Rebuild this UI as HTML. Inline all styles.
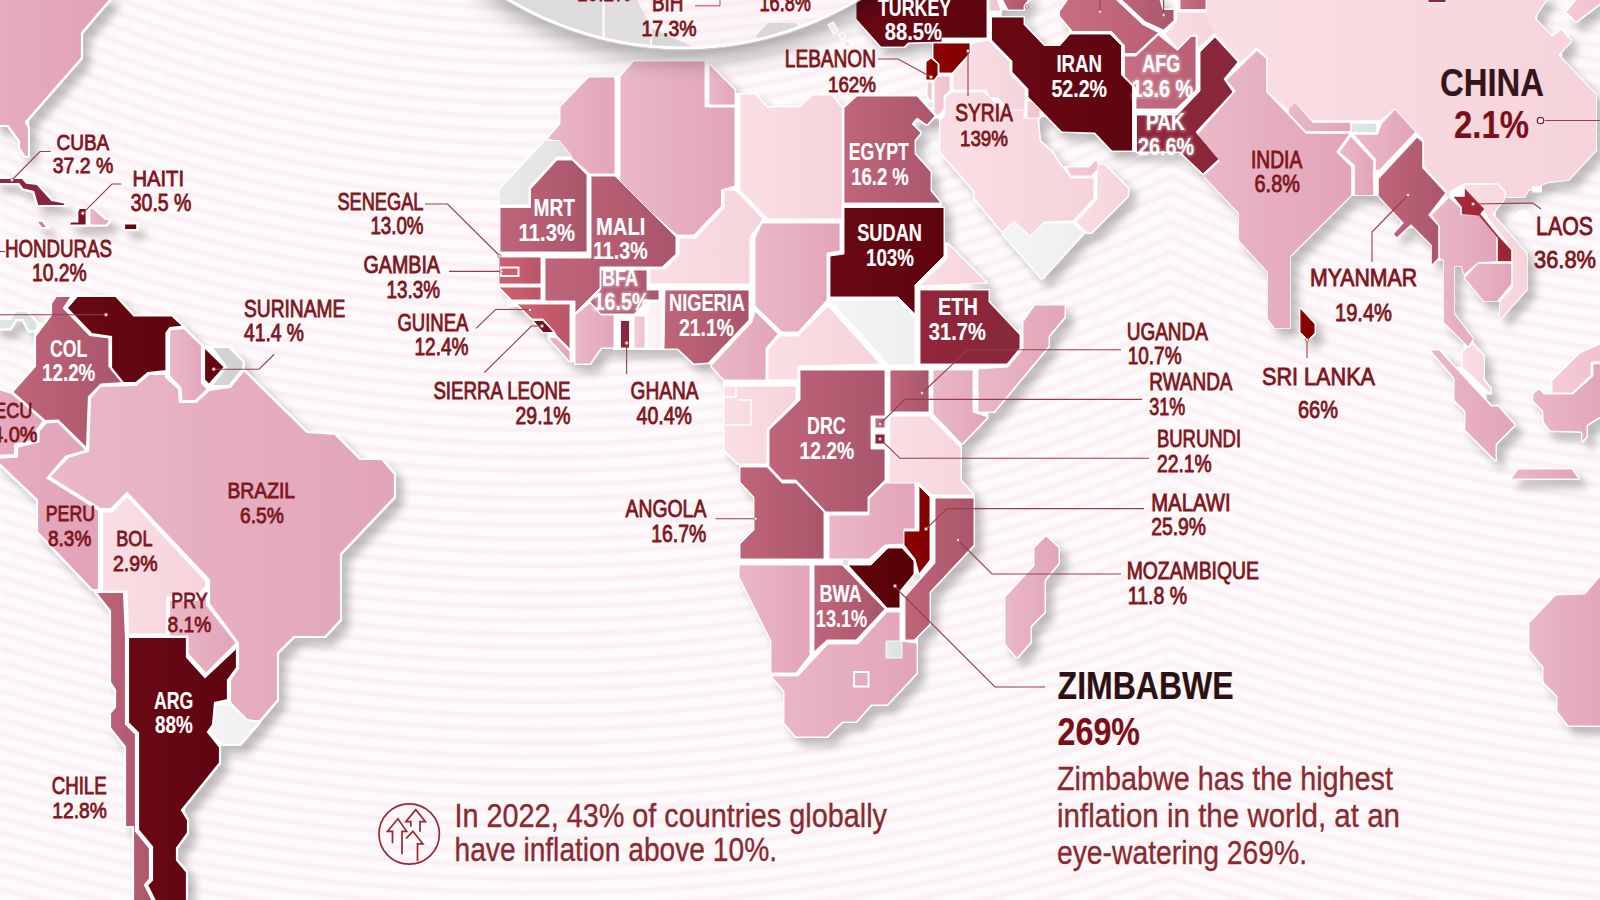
<!DOCTYPE html>
<html><head><meta charset="utf-8"><title>Inflation map</title>
<style>html,body{margin:0;padding:0;background:#fdfafb;}body{width:1600px;height:900px;overflow:hidden;font-family:"Liberation Sans",sans-serif;}svg{display:block}</style></head>
<body>
<svg width="1600" height="900" viewBox="0 0 1600 900" font-family="Liberation Sans, sans-serif">
<defs>
<linearGradient id="g_pink" x1="0" y1="0" x2="1" y2="0"><stop offset="0" stop-color="#eab8c7"/><stop offset="1" stop-color="#e2a4b8"/></linearGradient>
<linearGradient id="g_pink2" x1="0" y1="0" x2="1" y2="0"><stop offset="0" stop-color="#e6acbf"/><stop offset="1" stop-color="#e2a2b7"/></linearGradient>
<linearGradient id="g_light" x1="0" y1="0" x2="1" y2="0"><stop offset="0" stop-color="#f9dfe4"/><stop offset="1" stop-color="#f6d3db"/></linearGradient>
<linearGradient id="g_lpink" x1="0" y1="0" x2="1" y2="0"><stop offset="0" stop-color="#f5ccd6"/><stop offset="1" stop-color="#f0c0cc"/></linearGradient>
<linearGradient id="g_med" x1="0" y1="0" x2="1" y2="0"><stop offset="0" stop-color="#c0657a"/><stop offset="1" stop-color="#a9566a"/></linearGradient>
<linearGradient id="g_med2" x1="0" y1="0" x2="1" y2="0"><stop offset="0" stop-color="#c86e82"/><stop offset="1" stop-color="#b96074"/></linearGradient>
<linearGradient id="g_sen" x1="0" y1="0" x2="1" y2="0"><stop offset="0" stop-color="#d3616f"/><stop offset="1" stop-color="#b95669"/></linearGradient>
<linearGradient id="g_dark" x1="0" y1="0" x2="1" y2="0"><stop offset="0" stop-color="#932539"/><stop offset="1" stop-color="#86283b"/></linearGradient>
<linearGradient id="g_vdark" x1="0" y1="0" x2="1" y2="0"><stop offset="0" stop-color="#690813"/><stop offset="1" stop-color="#5e0510"/></linearGradient>
<linearGradient id="g_zim" x1="0" y1="0" x2="1" y2="0"><stop offset="0" stop-color="#5f0309"/><stop offset="1" stop-color="#560207"/></linearGradient>
<linearGradient id="g_red" x1="0" y1="0" x2="1" y2="0"><stop offset="0" stop-color="#8d0202"/><stop offset="1" stop-color="#800000"/></linearGradient>
<linearGradient id="g_cuba" x1="0" y1="0" x2="1" y2="0"><stop offset="0" stop-color="#8f2a43"/><stop offset="1" stop-color="#84233a"/></linearGradient>
<linearGradient id="g_haiti" x1="0" y1="0" x2="1" y2="0"><stop offset="0" stop-color="#7e152a"/><stop offset="1" stop-color="#76101f"/></linearGradient>
<linearGradient id="g_grey" x1="0" y1="0" x2="1" y2="0"><stop offset="0" stop-color="#e9e9e9"/><stop offset="1" stop-color="#e2e2e2"/></linearGradient>
<linearGradient id="g_grey2" x1="0" y1="0" x2="1" y2="0"><stop offset="0" stop-color="#f4f4f4"/><stop offset="1" stop-color="#efefef"/></linearGradient>
<linearGradient id="g_bgrey" x1="0" y1="0" x2="1" y2="0"><stop offset="0" stop-color="#dfe7e7"/><stop offset="1" stop-color="#d9e2e2"/></linearGradient>
<linearGradient id="g_white" x1="0" y1="0" x2="1" y2="0"><stop offset="0" stop-color="#fdf4f6"/><stop offset="1" stop-color="#fbeef1"/></linearGradient>
<linearGradient id="g_jam" x1="0" y1="0" x2="1" y2="0"><stop offset="0" stop-color="#e27a90"/><stop offset="1" stop-color="#dc6c84"/></linearGradient>
<linearGradient id="g_wfill" x1="0" y1="0" x2="1" y2="0"><stop offset="0" stop-color="#ffffff"/><stop offset="1" stop-color="#ffffff"/></linearGradient>
<linearGradient id="g_laos" x1="0" y1="0" x2="1" y2="0"><stop offset="0" stop-color="#a62a3c"/><stop offset="1" stop-color="#9a2436"/></linearGradient>
<linearGradient id="g_fgrey" x1="0" y1="0" x2="1" y2="0"><stop offset="0" stop-color="#d6d6d6"/><stop offset="1" stop-color="#cfcfcf"/></linearGradient>
<clipPath id="cl"><rect x="0" y="0" width="1170" height="900"/></clipPath>
<clipPath id="cr"><rect x="1170" y="0" width="430" height="900"/></clipPath>
<clipPath id="lens"><circle cx="683" cy="-291" r="338.5"/></clipPath>
<filter id="sh" x="-2%" y="-2%" width="104%" height="104%" color-interpolation-filters="sRGB"><feMorphology in="SourceAlpha" operator="dilate" radius="2.6"/><feMorphology operator="erode" radius="1.8" result="base"/><feGaussianBlur in="base" stdDeviation="4.5"/><feOffset dx="7" dy="8"/><feComponentTransfer result="shadow"><feFuncA type="linear" slope="0.24"/></feComponentTransfer><feFlood flood-color="#ffffff"/><feComposite in2="base" operator="in" result="wb"/><feMerge><feMergeNode in="shadow"/><feMergeNode in="wb"/></feMerge></filter>
<filter id="sh2" x="-20%" y="-20%" width="140%" height="140%"><feGaussianBlur in="SourceAlpha" stdDeviation="11"/><feOffset dx="3" dy="12"/><feComponentTransfer><feFuncA type="linear" slope="0.33"/></feComponentTransfer><feMerge><feMergeNode/><feMergeNode in="SourceGraphic"/></feMerge></filter>
<filter id="hl" x="-20%" y="-30%" width="140%" height="160%"><feGaussianBlur stdDeviation="0.8"/></filter>
<filter id="bl"><feGaussianBlur stdDeviation="1.2"/></filter>
</defs>
<rect width="1600" height="900" fill="#fdfafb"/>
<g filter="url(#bl)">
<g clip-path="url(#cl)" fill="none" stroke="#fbeff3" stroke-width="5">
<circle cx="542" cy="-1112" r="1107.0"/>
<circle cx="542" cy="-1112" r="1120.6"/>
<circle cx="542" cy="-1112" r="1134.2"/>
<circle cx="542" cy="-1112" r="1147.8"/>
<circle cx="542" cy="-1112" r="1161.4"/>
<circle cx="542" cy="-1112" r="1175.0"/>
<circle cx="542" cy="-1112" r="1188.6"/>
<circle cx="542" cy="-1112" r="1202.2"/>
<circle cx="542" cy="-1112" r="1215.8"/>
<circle cx="542" cy="-1112" r="1229.4"/>
<circle cx="542" cy="-1112" r="1243.0"/>
<circle cx="542" cy="-1112" r="1256.6"/>
<circle cx="542" cy="-1112" r="1270.2"/>
<circle cx="542" cy="-1112" r="1283.8"/>
<circle cx="542" cy="-1112" r="1297.4"/>
<circle cx="542" cy="-1112" r="1311.0"/>
<circle cx="542" cy="-1112" r="1324.6"/>
<circle cx="542" cy="-1112" r="1338.2"/>
<circle cx="542" cy="-1112" r="1351.8"/>
<circle cx="542" cy="-1112" r="1365.4"/>
<circle cx="542" cy="-1112" r="1379.0"/>
<circle cx="542" cy="-1112" r="1392.6"/>
<circle cx="542" cy="-1112" r="1406.2"/>
<circle cx="542" cy="-1112" r="1419.8"/>
<circle cx="542" cy="-1112" r="1433.4"/>
<circle cx="542" cy="-1112" r="1447.0"/>
<circle cx="542" cy="-1112" r="1460.6"/>
<circle cx="542" cy="-1112" r="1474.2"/>
<circle cx="542" cy="-1112" r="1487.8"/>
<circle cx="542" cy="-1112" r="1501.4"/>
<circle cx="542" cy="-1112" r="1515.0"/>
<circle cx="542" cy="-1112" r="1528.6"/>
<circle cx="542" cy="-1112" r="1542.2"/>
<circle cx="542" cy="-1112" r="1555.8"/>
<circle cx="542" cy="-1112" r="1569.4"/>
<circle cx="542" cy="-1112" r="1583.0"/>
<circle cx="542" cy="-1112" r="1596.6"/>
<circle cx="542" cy="-1112" r="1610.2"/>
<circle cx="542" cy="-1112" r="1623.8"/>
<circle cx="542" cy="-1112" r="1637.4"/>
<circle cx="542" cy="-1112" r="1651.0"/>
<circle cx="542" cy="-1112" r="1664.6"/>
<circle cx="542" cy="-1112" r="1678.2"/>
<circle cx="542" cy="-1112" r="1691.8"/>
<circle cx="542" cy="-1112" r="1705.4"/>
<circle cx="542" cy="-1112" r="1719.0"/>
<circle cx="542" cy="-1112" r="1732.6"/>
<circle cx="542" cy="-1112" r="1746.2"/>
<circle cx="542" cy="-1112" r="1759.8"/>
<circle cx="542" cy="-1112" r="1773.4"/>
<circle cx="542" cy="-1112" r="1787.0"/>
<circle cx="542" cy="-1112" r="1800.6"/>
<circle cx="542" cy="-1112" r="1814.2"/>
<circle cx="542" cy="-1112" r="1827.8"/>
<circle cx="542" cy="-1112" r="1841.4"/>
<circle cx="542" cy="-1112" r="1855.0"/>
<circle cx="542" cy="-1112" r="1868.6"/>
<circle cx="542" cy="-1112" r="1882.2"/>
<circle cx="542" cy="-1112" r="1895.8"/>
<circle cx="542" cy="-1112" r="1909.4"/>
<circle cx="542" cy="-1112" r="1923.0"/>
<circle cx="542" cy="-1112" r="1936.6"/>
<circle cx="542" cy="-1112" r="1950.2"/>
<circle cx="542" cy="-1112" r="1963.8"/>
<circle cx="542" cy="-1112" r="1977.4"/>
<circle cx="542" cy="-1112" r="1991.0"/>
<circle cx="542" cy="-1112" r="2004.6"/>
<circle cx="542" cy="-1112" r="2018.2"/>
<circle cx="542" cy="-1112" r="2031.8"/>
<circle cx="542" cy="-1112" r="2045.4"/>
<circle cx="542" cy="-1112" r="2059.0"/>
<circle cx="542" cy="-1112" r="2072.6"/>
<circle cx="542" cy="-1112" r="2086.2"/>
<circle cx="542" cy="-1112" r="2099.8"/>
<circle cx="542" cy="-1112" r="2113.4"/>
<circle cx="542" cy="-1112" r="2127.0"/>
<circle cx="542" cy="-1112" r="2140.6"/>
<circle cx="542" cy="-1112" r="2154.2"/>
<circle cx="542" cy="-1112" r="2167.8"/>
<circle cx="542" cy="-1112" r="2181.4"/>
<circle cx="542" cy="-1112" r="2195.0"/>
</g>
<g clip-path="url(#cr)" fill="none" stroke="#fbeff3" stroke-width="5">
<circle cx="1798" cy="-1112" r="1107.0"/>
<circle cx="1798" cy="-1112" r="1120.6"/>
<circle cx="1798" cy="-1112" r="1134.2"/>
<circle cx="1798" cy="-1112" r="1147.8"/>
<circle cx="1798" cy="-1112" r="1161.4"/>
<circle cx="1798" cy="-1112" r="1175.0"/>
<circle cx="1798" cy="-1112" r="1188.6"/>
<circle cx="1798" cy="-1112" r="1202.2"/>
<circle cx="1798" cy="-1112" r="1215.8"/>
<circle cx="1798" cy="-1112" r="1229.4"/>
<circle cx="1798" cy="-1112" r="1243.0"/>
<circle cx="1798" cy="-1112" r="1256.6"/>
<circle cx="1798" cy="-1112" r="1270.2"/>
<circle cx="1798" cy="-1112" r="1283.8"/>
<circle cx="1798" cy="-1112" r="1297.4"/>
<circle cx="1798" cy="-1112" r="1311.0"/>
<circle cx="1798" cy="-1112" r="1324.6"/>
<circle cx="1798" cy="-1112" r="1338.2"/>
<circle cx="1798" cy="-1112" r="1351.8"/>
<circle cx="1798" cy="-1112" r="1365.4"/>
<circle cx="1798" cy="-1112" r="1379.0"/>
<circle cx="1798" cy="-1112" r="1392.6"/>
<circle cx="1798" cy="-1112" r="1406.2"/>
<circle cx="1798" cy="-1112" r="1419.8"/>
<circle cx="1798" cy="-1112" r="1433.4"/>
<circle cx="1798" cy="-1112" r="1447.0"/>
<circle cx="1798" cy="-1112" r="1460.6"/>
<circle cx="1798" cy="-1112" r="1474.2"/>
<circle cx="1798" cy="-1112" r="1487.8"/>
<circle cx="1798" cy="-1112" r="1501.4"/>
<circle cx="1798" cy="-1112" r="1515.0"/>
<circle cx="1798" cy="-1112" r="1528.6"/>
<circle cx="1798" cy="-1112" r="1542.2"/>
<circle cx="1798" cy="-1112" r="1555.8"/>
<circle cx="1798" cy="-1112" r="1569.4"/>
<circle cx="1798" cy="-1112" r="1583.0"/>
<circle cx="1798" cy="-1112" r="1596.6"/>
<circle cx="1798" cy="-1112" r="1610.2"/>
<circle cx="1798" cy="-1112" r="1623.8"/>
<circle cx="1798" cy="-1112" r="1637.4"/>
<circle cx="1798" cy="-1112" r="1651.0"/>
<circle cx="1798" cy="-1112" r="1664.6"/>
<circle cx="1798" cy="-1112" r="1678.2"/>
<circle cx="1798" cy="-1112" r="1691.8"/>
<circle cx="1798" cy="-1112" r="1705.4"/>
<circle cx="1798" cy="-1112" r="1719.0"/>
<circle cx="1798" cy="-1112" r="1732.6"/>
<circle cx="1798" cy="-1112" r="1746.2"/>
<circle cx="1798" cy="-1112" r="1759.8"/>
<circle cx="1798" cy="-1112" r="1773.4"/>
<circle cx="1798" cy="-1112" r="1787.0"/>
<circle cx="1798" cy="-1112" r="1800.6"/>
<circle cx="1798" cy="-1112" r="1814.2"/>
<circle cx="1798" cy="-1112" r="1827.8"/>
<circle cx="1798" cy="-1112" r="1841.4"/>
<circle cx="1798" cy="-1112" r="1855.0"/>
<circle cx="1798" cy="-1112" r="1868.6"/>
<circle cx="1798" cy="-1112" r="1882.2"/>
<circle cx="1798" cy="-1112" r="1895.8"/>
<circle cx="1798" cy="-1112" r="1909.4"/>
<circle cx="1798" cy="-1112" r="1923.0"/>
<circle cx="1798" cy="-1112" r="1936.6"/>
<circle cx="1798" cy="-1112" r="1950.2"/>
<circle cx="1798" cy="-1112" r="1963.8"/>
<circle cx="1798" cy="-1112" r="1977.4"/>
<circle cx="1798" cy="-1112" r="1991.0"/>
<circle cx="1798" cy="-1112" r="2004.6"/>
<circle cx="1798" cy="-1112" r="2018.2"/>
<circle cx="1798" cy="-1112" r="2031.8"/>
<circle cx="1798" cy="-1112" r="2045.4"/>
<circle cx="1798" cy="-1112" r="2059.0"/>
<circle cx="1798" cy="-1112" r="2072.6"/>
<circle cx="1798" cy="-1112" r="2086.2"/>
<circle cx="1798" cy="-1112" r="2099.8"/>
<circle cx="1798" cy="-1112" r="2113.4"/>
<circle cx="1798" cy="-1112" r="2127.0"/>
<circle cx="1798" cy="-1112" r="2140.6"/>
<circle cx="1798" cy="-1112" r="2154.2"/>
<circle cx="1798" cy="-1112" r="2167.8"/>
<circle cx="1798" cy="-1112" r="2181.4"/>
<circle cx="1798" cy="-1112" r="2195.0"/>
</g>
</g>
<g filter="url(#sh)" stroke="none" fill="#ffffff">
<polygon points="-5,-5 110,-5 110,0 82,33 82,58 26,122 29,128 29,157 25,157 19,148 19,141 8,126 -5,126"/>
<polygon points="-5,178 22.7,178 26.7,182.7 37.3,184 52,200 65.3,202.7 65.3,206 37.3,206 33.3,192 22.7,189.3 18.7,184 -5,184"/>
<polygon points="78.7,208 86.7,208 86.7,225.5 68,225.5 70.7,221.3 77.3,221.3 77.3,212"/>
<polygon points="89.3,208 93.3,208 105.3,218.7 110.7,220 106.7,225.5 89.3,225.5"/>
<polygon points="124,223.5 137.3,223.5 137.3,230 124,230"/>
<polygon points="36,220.8 42.7,220.8 48,228 41.3,228"/>
<polygon points="-5,318.7 10,318.7 16,310.7 26.7,310.7 38.7,324 36,331.3 28.7,331.3 22.7,320 16,320 10.7,329.3 -5,329.3"/>
<polygon points="100,386 136,385 149,374 166,374 166,377 179,389 180,402 196,402 209,390 230,387 244,370 307,432 335,434 360,459 382,459 395,474 395,497 341,554 341,620 325,637 294,637 278,653 278,700 260,721 247,721 230,703 230,680 238,668 238,643 209,604 209,580 127,493 111,509 100,509 49,477 68,457 88,451 90,398"/>
<polygon points="51,303 56,296 72,296 64,308 90,335 109.5,337.5 109.5,366 124,383 101,384.5 89,397 87,449 58,420.5 45,421 12,392 35,366 35,336 51,315"/>
<polygon points="66.5,308 77,296 116,296 134,315.5 172,315.5 184,326.5 170,328 166.5,333 166.5,371 148,373 136,383 123,383 111,368 111,337 91.5,334"/>
<polygon points="170,329.5 184,328 202,345.5 202,383 208,389 195.5,401 181.5,401 180.5,388 169,376 169,333"/>
<polygon points="211,347 229,347 244,362 243,369 229,386 211,386 226,367"/>
<polygon points="204,346.5 225,367 209,385 204,380"/>
<polygon points="-5,388 12,393 44,421 37,430 37,440 15,445 15,455 -5,456"/>
<polygon points="46,422.5 58,421.5 87,450.5 66,456.5 47.5,478 99,510 99,590 92,590 37,532 37,500 -5,460 -5,458 17,456.5 17,447 38.5,441.5 38.5,431"/>
<polygon points="102,511.5 112,511.5 127,495.5 206,580.5 206,587 195.5,597.5 167.5,597.5 166.5,634.5 128,634.5 126.5,591.5 102,591.5"/>
<polygon points="169,600 197,600 207,590 207,604.5 237,643 206,674 187.5,654 187.5,636.5 169,636.5"/>
<polygon points="95,592 124,592 126,637 126,724 136,734 136,831 150,848 150,879 145,885 155,905 133,905 133,827 125,827 125,747 110,728 110,713 115,707 115,690 110,682 110,611"/>
<polygon points="215,705 230,703 247,720 260,722 240,745 222,745 209,732 213,725"/>
<polygon points="128,637 187,637 187,657 205,677 237,647 237,668 228,680 228,700 215,703 213,725 208,732 220,747 220,763 182,810 188,820 188,833 177,848 177,860 187,872 187,905 157,905 147,885 152,880 152,847 138,830 138,733 128,723"/>
<polygon points="878,362 892,362 892,372 878,372"/>
<polygon points="508,298 520,298 520,306 508,306"/>
<polygon points="589,77 615,77 615,174 590,174 572,158 565,151 560,142 547,139 560,124 560,107"/>
<polygon points="545,140.5 559,140.5 567,150 572,157 557,157 529,187 529,205 499,205 499,190"/>
<polygon points="557,160 572,160 587,175 587,252 500,252 500,207.5 530.5,207.5 530.5,189"/>
<polygon points="634,61 705,61 705,107 735,107 735,186 721.5,190 721.5,206 694,235 677,235 620,185 620,77"/>
<polygon points="709,64 735,90 735,105 709,105"/>
<polygon points="740,94 755,94 767,107 800,107 813,95 832,95 842,108 842,219 768,219 740,190"/>
<polygon points="724,190 735,190 763,219 750,237 750,284 650,284 650,269 665,269 679,255 679,238 696,238 724,208"/>
<polygon points="591,176 615,176 676,237 676,254 662,267 600,267 600,288 575,313 575,301 545,301 545,258 591,258"/>
<polygon points="499,257 541,257 541,284 499,284"/>
<polygon points="499,287 541,287 541,300 512,300"/>
<polygon points="517,304 570,304 570,349 556,335 554,331 543,319 532,319"/>
<polygon points="533,320.5 543,320.5 554,332.5 543,332.5"/>
<polygon points="548,337.5 556,337.5 570,351.5 570,362"/>
<polygon points="575,315 590,303 601,315 616,315 616,348 601,348 590,364 575,364"/>
<polygon points="614,312 636,312 636,349 614,349"/>
<polygon points="632,298 664,298 664,349 632,349"/>
<polygon points="601,270 647,270 647,290 659,290 659,300 647,300 634,314 601,314 590,302 601,289"/>
<polygon points="634,316 645,316 645,348 634,348"/>
<polygon points="647,302 662,302 662,348 647,348"/>
<polygon points="620.5,320.5 629.5,320.5 629.5,348 620.5,348"/>
<polygon points="665,290 749,290 749,320 708,363 694,364 678,349 664,349"/>
<polygon points="762,223 840,223 840,251 827,253 827,300 798,332 782,332 755,306 755,238"/>
<polygon points="711,366 752,322 755,311 778,334 766,348 766,380 724,380"/>
<polygon points="768,350 780,336 798,336 828,306 880,364 798,366 798,380 768,380"/>
<polygon points="844,108 857,96 917,96 935,116 927,125 917,118 912,124 921,133 915,140 915,154 931,172 931,191 941,203 844,203"/>
<polygon points="947,243 987,283 919,286 947,259"/>
<polygon points="844,207.5 944,207.5 944,256 915,285 915,314 898,297 830,297 830,256 844,254"/>
<polygon points="830,300 897,300 915,318 915,365 889,365"/>
<polygon points="920,290 989,290 989,302 1020,335 1020,348 1007,364 920,364"/>
<polygon points="1023,322 1035,305 1065,305 1065,317 1049,336 1049,346 994,412 978,412 978,369 1008,367 1023,349"/>
<polygon points="724,386 796,386 796,400 767,429 767,464 738,464 724,450"/>
<polygon points="800,370 885,370 885,416 871,416 871,449 885,449 885,480 868,497 868,512 826,512 796,480 782,480 769,466 769,430 800,400"/>
<polygon points="890,370 929,370 929,412 890,412"/>
<polygon points="933,370 973,370 973,412 988,417 962,444 933,414"/>
<polygon points="890,416 929,416 961,448 961,481 974,495 932,495 919,483 889,483"/>
<polygon points="875,418 885,418 885,428 875,428"/>
<polygon points="875,434 885,434 885,444 875,444"/>
<polygon points="740,467 767,467 782,483 796,483 824,512 824,559 740,559 740,544 754,530 754,497 740,482"/>
<polygon points="829,515 869,515 869,499 885,483 915,483 915,529 904,529 904,544 885,545 869,559 829,559"/>
<polygon points="935,498 974,498 974,545 930,592 930,624 914,640 905,640 905,597 935,563"/>
<polygon points="919,486 930,497 930,560 919,574 915,559 904,545 904,531 919,531"/>
<polygon points="739,565 810,565 810,655 796,673 771,673 771,641 739,577"/>
<polygon points="814,565 842,565 885,609 856,640 827,640 814,652"/>
<polygon points="771,676 798,676 828,644 858,644 887,612 900,612 900,641 917,643 917,673 887,705 871,705 856,722 842,722 827,737 796,737 784,723 784,691"/>
<polygon points="848,565 871,565 888,548 902,548 914,561 914,574 900,591 900,608 887,608"/>
<polygon points="886,641 902,641 902,658 886,658"/>
<polygon points="1046,536 1059,548 1059,563 1045,580 1045,612 1031,626 1031,642 1017,658 1005,644 1005,597 1034,566 1034,548"/>
<polygon points="856,-5 987,-5 987,38 942,38 942,42 908,43 904,47 881,47 856,19"/>
<polygon points="934,81 939,76 950,76 950,90 944,96 944,109 938,116 934,112"/>
<polygon points="927,82 932,82 932,102 927,96"/>
<polygon points="972,43 988,40 1010,62 1010,74 1025,89 1025,112 1012,112 998,98 990,98 986,90 953,90 953,74 970,55"/>
<polygon points="933,43 970,43 970,53 952,73 939,73 939,64 933,58"/>
<polygon points="926,62 931,58 938,64 938,75 934,80 926,80"/>
<polygon points="945,98 952,92 984,92 1003,110 1024,110 1024,118 1038,118 1040,141 1053,153 1060,164 1071,178 1094,178 1094,198 1073,221 1044,222 1030,236 1014,221 1002,232 974,198 974,191 940,152 940,121 945,114"/>
<polygon points="1027,101 1031,101 1040,110 1040,118 1027,118"/>
<polygon points="1066,167 1089,167 1096,160 1100,167 1091,176 1071,176"/>
<polygon points="1098,164 1104,164 1129,189 1128,196 1091,233 1087,233 1076,222 1097,199 1097,179"/>
<polygon points="1002,233 1014,222 1030,237 1044,223 1073,223 1084,233 1042,279"/>
<polygon points="1157,27 1169,27 1169,39 1157,39"/>
<polygon points="989,-5 996,-5 1001,11 989,11"/>
<polygon points="1000,-5 1032,-5 1024,6 1024,10 1008,10"/>
<polygon points="991.5,17 1024,17 1024,24.5 1044,45.5 1060,45.5 1070,34 1110,34 1121.5,45.5 1121.5,75 1132.5,86 1132.5,151 1112,151 1095,133 1062,132 1028,97 1028,89 1012,72 1012,61 991.5,40"/>
<polygon points="1059.5,11.5 1071,-5 1116.5,-5 1116.5,0 1142.5,24.4 1158.5,32.5 1136,53.5 1124.5,53.5 1124.5,45.5 1111.5,31.5 1072.5,31.5 1059.5,16"/>
<polygon points="1122,-5 1158.5,-5 1163,9.5 1174,9.5 1174,20.5 1163.5,30 1145,21.5 1122,0"/>
<polygon points="1180,-5 1206,-5 1206,9.5 1180,9.5"/>
<polygon points="1165,34 1176.5,21 1176.5,12 1206.5,12 1210.5,26 1215.5,32.5 1197.5,48.5 1197.5,35 1191,35 1177.5,48.5"/>
<polygon points="1124.5,56 1136,56 1158.5,35 1177.5,50.5 1191,36.5 1196,36.5 1196,90 1176,109 1136,109 1136,88 1124.5,76"/>
<polygon points="1215,37 1238,62 1224,79 1233,92 1196,132 1219,159 1203,174 1180,152 1136.5,152 1136.5,115 1177,115 1200,91 1200,52"/>
<polygon points="1207,-5 1207,20 1212,30 1240,62 1257,47 1268,58 1268,92 1288,109 1295,102 1313,120 1380,120 1395,108 1424,140 1424,166 1448,192 1464,183 1498,183 1506,191 1506,197 1524,197 1528,190 1548,182 1568,180 1596,150 1596,95 1558,55 1571,41 1561,30 1552,37 1534,18 1549,-5"/>
<polygon points="1257,51 1266,59 1266,92 1306,134 1349,134 1336,152 1351,167 1351,195 1305,241 1290,256 1290,328 1275,328 1268,319 1268,272 1239,240 1239,213 1204,176 1220,161 1198,134.5 1236,91 1227,80"/>
<polygon points="1289,109 1295,103 1313,123 1350,123 1350,131 1306,131 1289,113"/>
<polygon points="1352,124 1376,124 1376,132 1352,132"/>
<polygon points="1340,152 1351,137 1373,161 1373,195 1355,195 1355,165"/>
<polygon points="1355,135 1378,135 1382,124 1395,110 1415,132 1376,173 1376,159"/>
<polygon points="1450,193 1464,185 1466,190 1466,198 1453,198"/>
<polygon points="1373,170 1379,170 1379,182 1373,182"/>
<polygon points="1379,179 1417,138 1422,142 1422,168 1445,193 1428,215 1438,226 1438,258 1432,264 1432,245 1411,224 1397,237 1394,234 1404,223 1379,196"/>
<polygon points="1432,215 1449,198 1460,208 1460,215 1480,216 1496,236 1496,261 1478,262 1464,274 1462,266 1454,266 1454,314 1473,339 1468,346 1444,322 1444,260 1440,258 1440,226"/>
<polygon points="1465,185 1497,185 1504,192 1504,199 1492,214 1527,254 1527,289 1500,319 1500,302 1513,288 1513,250 1486,214 1482,207 1465,189"/>
<polygon points="1454,197 1465,197 1465,189 1484,209 1480,214 1498,236 1511,250 1511,261 1498,261 1498,238 1479,215.5 1462,214 1462,207"/>
<polygon points="1465,278 1478,264 1511,264 1511,284 1497,301 1484,301"/>
<polygon points="1428,-5 1446,-5 1446,2.5 1428,2.5"/>
<polygon points="1566,12 1580,-5 1605,-5 1605,0 1576,22"/>
<polygon points="1300,308 1315,324 1315,333 1308,340 1300,332"/>
<polygon points="1462,351 1473,344 1484,356 1484,380 1491,389 1491,394 1462,367"/>
<polygon points="1430,350 1439,350 1491,406 1498,406 1515,425 1496,444 1496,461 1465,430 1465,411 1454,400 1454,378"/>
<polygon points="1518,469 1572,469 1579,479 1511,479"/>
<polygon points="1533,394 1539,389 1544,394 1573,394 1593,376 1593,364 1605,364 1605,414 1587,425 1587,436 1582,442 1582,432 1550,431 1543,421 1543,411 1533,401"/>
<polygon points="1552,393 1552,381 1580,353 1605,342 1605,361 1591,362 1591,375 1572,393"/>
<polygon points="1605,571 1585,594 1556,595 1529,623 1529,650 1543,667 1543,682 1557,696 1557,711 1568,726 1605,726"/>
</g>
<g stroke="#ffffff" stroke-width="0.9" stroke-linejoin="miter">
<polygon fill="url(#g_pink2)" stroke-width="2.2" points="-5,-5 110,-5 110,0 82,33 82,58 26,122 29,128 29,157 25,157 19,148 19,141 8,126 -5,126"/>
<polygon fill="url(#g_cuba)" stroke-width="2.2" points="-5,178 22.7,178 26.7,182.7 37.3,184 52,200 65.3,202.7 65.3,206 37.3,206 33.3,192 22.7,189.3 18.7,184 -5,184"/>
<polygon fill="url(#g_haiti)" stroke-width="2.2" points="78.7,208 86.7,208 86.7,225.5 68,225.5 70.7,221.3 77.3,221.3 77.3,212"/>
<polygon fill="url(#g_pink)" stroke-width="2.2" points="89.3,208 93.3,208 105.3,218.7 110.7,220 106.7,225.5 89.3,225.5"/>
<polygon fill="url(#g_vdark)" stroke-width="2.2" points="124,223.5 137.3,223.5 137.3,230 124,230"/>
<polygon fill="url(#g_jam)" stroke-width="2.2" points="36,220.8 42.7,220.8 48,228 41.3,228"/>
<polygon fill="url(#g_bgrey)" stroke-width="2.2" points="-5,318.7 10,318.7 16,310.7 26.7,310.7 38.7,324 36,331.3 28.7,331.3 22.7,320 16,320 10.7,329.3 -5,329.3"/>
<polygon fill="url(#g_pink)" stroke-width="2.2" points="100,386 136,385 149,374 166,374 166,377 179,389 180,402 196,402 209,390 230,387 244,370 307,432 335,434 360,459 382,459 395,474 395,497 341,554 341,620 325,637 294,637 278,653 278,700 260,721 247,721 230,703 230,680 238,668 238,643 209,604 209,580 127,493 111,509 100,509 49,477 68,457 88,451 90,398"/>
<polygon fill="url(#g_med)" stroke-width="2.2" points="51,303 56,296 72,296 64,308 90,335 109.5,337.5 109.5,366 124,383 101,384.5 89,397 87,449 58,420.5 45,421 12,392 35,366 35,336 51,315"/>
<polygon fill="url(#g_vdark)" stroke-width="2.2" points="66.5,308 77,296 116,296 134,315.5 172,315.5 184,326.5 170,328 166.5,333 166.5,371 148,373 136,383 123,383 111,368 111,337 91.5,334"/>
<polygon fill="url(#g_pink)" stroke-width="2.2" points="170,329.5 184,328 202,345.5 202,383 208,389 195.5,401 181.5,401 180.5,388 169,376 169,333"/>
<polygon fill="url(#g_fgrey)" stroke-width="2.2" points="211,347 229,347 244,362 243,369 229,386 211,386 226,367"/>
<polygon fill="url(#g_vdark)" stroke-width="2.2" points="204,346.5 225,367 209,385 204,380"/>
<polygon fill="url(#g_pink2)" stroke-width="2.2" points="-5,388 12,393 44,421 37,430 37,440 15,445 15,455 -5,456"/>
<polygon fill="url(#g_pink2)" stroke-width="2.2" points="46,422.5 58,421.5 87,450.5 66,456.5 47.5,478 99,510 99,590 92,590 37,532 37,500 -5,460 -5,458 17,456.5 17,447 38.5,441.5 38.5,431"/>
<polygon fill="url(#g_light)" stroke-width="2.2" points="102,511.5 112,511.5 127,495.5 206,580.5 206,587 195.5,597.5 167.5,597.5 166.5,634.5 128,634.5 126.5,591.5 102,591.5"/>
<polygon fill="url(#g_pink)" stroke-width="2.2" points="169,600 197,600 207,590 207,604.5 237,643 206,674 187.5,654 187.5,636.5 169,636.5"/>
<polygon fill="url(#g_med)" stroke-width="2.2" points="95,592 124,592 126,637 126,724 136,734 136,831 150,848 150,879 145,885 155,905 133,905 133,827 125,827 125,747 110,728 110,713 115,707 115,690 110,682 110,611"/>
<polygon fill="url(#g_grey2)" stroke-width="2.2" points="215,705 230,703 247,720 260,722 240,745 222,745 209,732 213,725"/>
<polygon fill="url(#g_vdark)" stroke-width="2.2" points="128,637 187,637 187,657 205,677 237,647 237,668 228,680 228,700 215,703 213,725 208,732 220,747 220,763 182,810 188,820 188,833 177,848 177,860 187,872 187,905 157,905 147,885 152,880 152,847 138,830 138,733 128,723"/>
<polygon fill="url(#g_wfill)" stroke-width="0.9" points="878,362 892,362 892,372 878,372"/>
<polygon fill="url(#g_wfill)" stroke-width="0.9" points="508,298 520,298 520,306 508,306"/>
<polygon fill="url(#g_pink)" stroke-width="0.9" points="589,77 615,77 615,174 590,174 572,158 565,151 560,142 547,139 560,124 560,107"/>
<polygon fill="url(#g_grey)" stroke-width="0.9" points="545,140.5 559,140.5 567,150 572,157 557,157 529,187 529,205 499,205 499,190"/>
<polygon fill="url(#g_med)" stroke-width="0.9" points="557,160 572,160 587,175 587,252 500,252 500,207.5 530.5,207.5 530.5,189"/>
<polygon fill="url(#g_pink)" stroke-width="0.9" points="634,61 705,61 705,107 735,107 735,186 721.5,190 721.5,206 694,235 677,235 620,185 620,77"/>
<polygon fill="url(#g_pink)" stroke-width="0.9" points="709,64 735,90 735,105 709,105"/>
<polygon fill="url(#g_light)" stroke-width="0.9" points="740,94 755,94 767,107 800,107 813,95 832,95 842,108 842,219 768,219 740,190"/>
<polygon fill="url(#g_light)" stroke-width="0.9" points="724,190 735,190 763,219 750,237 750,284 650,284 650,269 665,269 679,255 679,238 696,238 724,208"/>
<polygon fill="url(#g_med)" stroke-width="0.9" points="591,176 615,176 676,237 676,254 662,267 600,267 600,288 575,313 575,301 545,301 545,258 591,258"/>
<polygon fill="url(#g_sen)" stroke-width="0.9" points="499,257 541,257 541,284 499,284"/>
<polygon fill="url(#g_sen)" stroke-width="0.9" points="499,287 541,287 541,300 512,300"/>
<polygon fill="url(#g_sen)" stroke-width="0.9" points="517,304 570,304 570,349 556,335 554,331 543,319 532,319"/>
<polygon fill="url(#g_haiti)" stroke-width="0.9" points="533,320.5 543,320.5 554,332.5 543,332.5"/>
<polygon fill="url(#g_pink)" stroke-width="0.9" points="548,337.5 556,337.5 570,351.5 570,362"/>
<polygon fill="url(#g_pink)" stroke-width="0.9" points="575,315 590,303 601,315 616,315 616,348 601,348 590,364 575,364"/>
<polygon fill="url(#g_wfill)" stroke-width="0.9" points="614,312 636,312 636,349 614,349"/>
<polygon fill="url(#g_wfill)" stroke-width="0.9" points="632,298 664,298 664,349 632,349"/>
<polygon fill="url(#g_med)" stroke-width="0.9" points="601,270 647,270 647,290 659,290 659,300 647,300 634,314 601,314 590,302 601,289"/>
<polygon fill="url(#g_lpink)" stroke-width="0.9" points="634,316 645,316 645,348 634,348"/>
<polygon fill="url(#g_white)" stroke-width="0.9" points="647,302 662,302 662,348 647,348"/>
<polygon fill="url(#g_dark)" stroke-width="0.9" points="620.5,320.5 629.5,320.5 629.5,348 620.5,348"/>
<polygon fill="url(#g_med)" stroke-width="0.9" points="665,290 749,290 749,320 708,363 694,364 678,349 664,349"/>
<polygon fill="url(#g_pink)" stroke-width="0.9" points="762,223 840,223 840,251 827,253 827,300 798,332 782,332 755,306 755,238"/>
<polygon fill="url(#g_pink)" stroke-width="0.9" points="711,366 752,322 755,311 778,334 766,348 766,380 724,380"/>
<polygon fill="url(#g_light)" stroke-width="0.9" points="768,350 780,336 798,336 828,306 880,364 798,366 798,380 768,380"/>
<polygon fill="url(#g_med)" stroke-width="0.9" points="844,108 857,96 917,96 935,116 927,125 917,118 912,124 921,133 915,140 915,154 931,172 931,191 941,203 844,203"/>
<polygon fill="url(#g_light)" stroke-width="0.9" points="947,243 987,283 919,286 947,259"/>
<polygon fill="url(#g_vdark)" stroke-width="0.9" points="844,207.5 944,207.5 944,256 915,285 915,314 898,297 830,297 830,256 844,254"/>
<polygon fill="url(#g_grey2)" stroke-width="0.9" points="830,300 897,300 915,318 915,365 889,365"/>
<polygon fill="url(#g_dark)" stroke-width="0.9" points="920,290 989,290 989,302 1020,335 1020,348 1007,364 920,364"/>
<polygon fill="url(#g_pink)" stroke-width="0.9" points="1023,322 1035,305 1065,305 1065,317 1049,336 1049,346 994,412 978,412 978,369 1008,367 1023,349"/>
<polygon fill="url(#g_light)" stroke-width="0.9" points="724,386 796,386 796,400 767,429 767,464 738,464 724,450"/>
<polygon fill="url(#g_med)" stroke-width="0.9" points="800,370 885,370 885,416 871,416 871,449 885,449 885,480 868,497 868,512 826,512 796,480 782,480 769,466 769,430 800,400"/>
<polygon fill="url(#g_med)" stroke-width="0.9" points="890,370 929,370 929,412 890,412"/>
<polygon fill="url(#g_pink)" stroke-width="0.9" points="933,370 973,370 973,412 988,417 962,444 933,414"/>
<polygon fill="url(#g_light)" stroke-width="0.9" points="890,416 929,416 961,448 961,481 974,495 932,495 919,483 889,483"/>
<polygon fill="url(#g_med2)" stroke-width="0.9" points="875,418 885,418 885,428 875,428"/>
<polygon fill="url(#g_dark)" stroke-width="0.9" points="875,434 885,434 885,444 875,444"/>
<polygon fill="url(#g_med)" stroke-width="0.9" points="740,467 767,467 782,483 796,483 824,512 824,559 740,559 740,544 754,530 754,497 740,482"/>
<polygon fill="url(#g_pink)" stroke-width="0.9" points="829,515 869,515 869,499 885,483 915,483 915,529 904,529 904,544 885,545 869,559 829,559"/>
<polygon fill="url(#g_med)" stroke-width="0.9" points="935,498 974,498 974,545 930,592 930,624 914,640 905,640 905,597 935,563"/>
<polygon fill="url(#g_red)" stroke-width="0.9" points="919,486 930,497 930,560 919,574 915,559 904,545 904,531 919,531"/>
<polygon fill="url(#g_pink)" stroke-width="0.9" points="739,565 810,565 810,655 796,673 771,673 771,641 739,577"/>
<polygon fill="url(#g_med)" stroke-width="0.9" points="814,565 842,565 885,609 856,640 827,640 814,652"/>
<polygon fill="url(#g_pink)" stroke-width="0.9" points="771,676 798,676 828,644 858,644 887,612 900,612 900,641 917,643 917,673 887,705 871,705 856,722 842,722 827,737 796,737 784,723 784,691"/>
<polygon fill="url(#g_zim)" stroke-width="0.9" points="848,565 871,565 888,548 902,548 914,561 914,574 900,591 900,608 887,608"/>
<polygon fill="url(#g_bgrey)" stroke-width="0.9" points="886,641 902,641 902,658 886,658"/>
<polygon fill="url(#g_pink)" stroke-width="0.9" points="1046,536 1059,548 1059,563 1045,580 1045,612 1031,626 1031,642 1017,658 1005,644 1005,597 1034,566 1034,548"/>
<polygon fill="url(#g_vdark)" stroke-width="0.9" points="856,-5 987,-5 987,38 942,38 942,42 908,43 904,47 881,47 856,19"/>
<polygon fill="url(#g_lpink)" stroke-width="0.9" points="934,81 939,76 950,76 950,90 944,96 944,109 938,116 934,112"/>
<polygon fill="url(#g_lpink)" stroke-width="0.9" points="927,82 932,82 932,102 927,96"/>
<polygon fill="url(#g_light)" stroke-width="0.9" points="972,43 988,40 1010,62 1010,74 1025,89 1025,112 1012,112 998,98 990,98 986,90 953,90 953,74 970,55"/>
<polygon fill="url(#g_red)" stroke-width="0.9" points="933,43 970,43 970,53 952,73 939,73 939,64 933,58"/>
<polygon fill="url(#g_red)" stroke-width="0.9" points="926,62 931,58 938,64 938,75 934,80 926,80"/>
<polygon fill="url(#g_light)" stroke-width="0.9" points="945,98 952,92 984,92 1003,110 1024,110 1024,118 1038,118 1040,141 1053,153 1060,164 1071,178 1094,178 1094,198 1073,221 1044,222 1030,236 1014,221 1002,232 974,198 974,191 940,152 940,121 945,114"/>
<polygon fill="url(#g_lpink)" stroke-width="0.9" points="1027,101 1031,101 1040,110 1040,118 1027,118"/>
<polygon fill="url(#g_lpink)" stroke-width="0.9" points="1066,167 1089,167 1096,160 1100,167 1091,176 1071,176"/>
<polygon fill="url(#g_light)" stroke-width="0.9" points="1098,164 1104,164 1129,189 1128,196 1091,233 1087,233 1076,222 1097,199 1097,179"/>
<polygon fill="url(#g_grey2)" stroke-width="0.9" points="1002,233 1014,222 1030,237 1044,223 1073,223 1084,233 1042,279"/>
<polygon fill="url(#g_wfill)" stroke-width="0.9" points="1157,27 1169,27 1169,39 1157,39"/>
<polygon fill="url(#g_lpink)" stroke-width="0.9" points="989,-5 996,-5 1001,11 989,11"/>
<polygon fill="url(#g_med)" stroke-width="0.9" points="1000,-5 1032,-5 1024,6 1024,10 1008,10"/>
<polygon fill="url(#g_vdark)" stroke-width="0.9" points="991.5,17 1024,17 1024,24.5 1044,45.5 1060,45.5 1070,34 1110,34 1121.5,45.5 1121.5,75 1132.5,86 1132.5,151 1112,151 1095,133 1062,132 1028,97 1028,89 1012,72 1012,61 991.5,40"/>
<polygon fill="url(#g_med2)" stroke-width="0.9" points="1059.5,11.5 1071,-5 1116.5,-5 1116.5,0 1142.5,24.4 1158.5,32.5 1136,53.5 1124.5,53.5 1124.5,45.5 1111.5,31.5 1072.5,31.5 1059.5,16"/>
<polygon fill="url(#g_med)" stroke-width="0.9" points="1122,-5 1158.5,-5 1163,9.5 1174,9.5 1174,20.5 1163.5,30 1145,21.5 1122,0"/>
<polygon fill="url(#g_med2)" stroke-width="0.9" points="1180,-5 1206,-5 1206,9.5 1180,9.5"/>
<polygon fill="url(#g_light)" stroke-width="0.9" points="1165,34 1176.5,21 1176.5,12 1206.5,12 1210.5,26 1215.5,32.5 1197.5,48.5 1197.5,35 1191,35 1177.5,48.5"/>
<polygon fill="url(#g_med2)" stroke-width="0.9" points="1124.5,56 1136,56 1158.5,35 1177.5,50.5 1191,36.5 1196,36.5 1196,90 1176,109 1136,109 1136,88 1124.5,76"/>
<polygon fill="url(#g_dark)" stroke-width="0.9" points="1215,37 1238,62 1224,79 1233,92 1196,132 1219,159 1203,174 1180,152 1136.5,152 1136.5,115 1177,115 1200,91 1200,52"/>
<polygon fill="url(#g_light)" stroke="url(#g_light)" stroke-width="0.4" points="1207,-5 1207,20 1212,30 1240,62 1257,47 1268,58 1268,92 1288,109 1295,102 1313,120 1380,120 1395,108 1424,140 1424,166 1448,192 1464,183 1498,183 1506,191 1506,197 1524,197 1528,190 1548,182 1568,180 1596,150 1596,95 1558,55 1571,41 1561,30 1552,37 1534,18 1549,-5"/>
<polygon fill="url(#g_pink)" stroke="url(#g_pink)" stroke-width="0.4" points="1257,51 1266,59 1266,92 1306,134 1349,134 1336,152 1351,167 1351,195 1305,241 1290,256 1290,328 1275,328 1268,319 1268,272 1239,240 1239,213 1204,176 1220,161 1198,134.5 1236,91 1227,80"/>
<polygon fill="url(#g_pink)" stroke="url(#g_pink)" stroke-width="0.4" points="1289,109 1295,103 1313,123 1350,123 1350,131 1306,131 1289,113"/>
<polygon fill="url(#g_bgrey)" stroke="url(#g_bgrey)" stroke-width="0.4" points="1352,124 1376,124 1376,132 1352,132"/>
<polygon fill="url(#g_pink)" stroke="url(#g_pink)" stroke-width="0.4" points="1340,152 1351,137 1373,161 1373,195 1355,195 1355,165"/>
<polygon fill="url(#g_pink)" stroke="url(#g_pink)" stroke-width="0.4" points="1355,135 1378,135 1382,124 1395,110 1415,132 1376,173 1376,159"/>
<polygon fill="url(#g_wfill)" stroke="url(#g_wfill)" stroke-width="0.4" points="1450,193 1464,185 1466,190 1466,198 1453,198"/>
<polygon fill="url(#g_wfill)" stroke="url(#g_wfill)" stroke-width="0.4" points="1373,170 1379,170 1379,182 1373,182"/>
<polygon fill="url(#g_med)" stroke="url(#g_med)" stroke-width="0.4" points="1379,179 1417,138 1422,142 1422,168 1445,193 1428,215 1438,226 1438,258 1432,264 1432,245 1411,224 1397,237 1394,234 1404,223 1379,196"/>
<polygon fill="url(#g_pink)" stroke="url(#g_pink)" stroke-width="0.4" points="1432,215 1449,198 1460,208 1460,215 1480,216 1496,236 1496,261 1478,262 1464,274 1462,266 1454,266 1454,314 1473,339 1468,346 1444,322 1444,260 1440,258 1440,226"/>
<polygon fill="url(#g_light)" stroke="url(#g_light)" stroke-width="0.4" points="1465,185 1497,185 1504,192 1504,199 1492,214 1527,254 1527,289 1500,319 1500,302 1513,288 1513,250 1486,214 1482,207 1465,189"/>
<polygon fill="url(#g_laos)" stroke="url(#g_laos)" stroke-width="0.4" points="1454,197 1465,197 1465,189 1484,209 1480,214 1498,236 1511,250 1511,261 1498,261 1498,238 1479,215.5 1462,214 1462,207"/>
<polygon fill="url(#g_pink)" stroke="url(#g_pink)" stroke-width="0.4" points="1465,278 1478,264 1511,264 1511,284 1497,301 1484,301"/>
<polygon fill="url(#g_dark)" stroke-width="0.9" points="1428,-5 1446,-5 1446,2.5 1428,2.5"/>
<polygon fill="url(#g_lpink)" stroke-width="0.9" points="1566,12 1580,-5 1605,-5 1605,0 1576,22"/>
<polygon fill="url(#g_red)" stroke-width="0.9" points="1300,308 1315,324 1315,333 1308,340 1300,332"/>
<polygon fill="url(#g_light)" stroke-width="0.9" points="1462,351 1473,344 1484,356 1484,380 1491,389 1491,394 1462,367"/>
<polygon fill="url(#g_pink)" stroke-width="0.9" points="1430,350 1439,350 1491,406 1498,406 1515,425 1496,444 1496,461 1465,430 1465,411 1454,400 1454,378"/>
<polygon fill="url(#g_pink)" stroke-width="0.9" points="1518,469 1572,469 1579,479 1511,479"/>
<polygon fill="url(#g_pink)" stroke-width="0.9" points="1533,394 1539,389 1544,394 1573,394 1593,376 1593,364 1605,364 1605,414 1587,425 1587,436 1582,442 1582,432 1550,431 1543,421 1543,411 1533,401"/>
<polygon fill="url(#g_lpink)" stroke-width="0.9" points="1552,393 1552,381 1580,353 1605,342 1605,361 1591,362 1591,375 1572,393"/>
<polygon fill="url(#g_pink)" stroke-width="0.9" points="1605,571 1585,594 1556,595 1529,623 1529,650 1543,667 1543,682 1557,696 1557,711 1568,726 1605,726"/>
</g>
<g fill="none" stroke="#fff" stroke-width="2">
<rect x="501" y="267.5" width="17.5" height="8.5"/>
<rect x="854" y="672" width="14.5" height="14.5"/>
<path d="M738,400 H751 V425 H725" stroke-width="1.6"/><path d="M725,386 h11 v11 h-11" stroke-width="1.6"/>
</g>
<ellipse cx="1522" cy="216" rx="7.5" ry="6" fill="#fff" transform="rotate(-30 1522 216)"/><rect x="1532" y="186" width="10" height="6.5" fill="#fff"/>
<g filter="url(#sh2)"><circle cx="683" cy="-291" r="340" fill="#fdf6f8"/></g>
<g clip-path="url(#lens)">
<g fill="none" stroke="#fcedf1" stroke-width="5"><path d="M480,-20 L900,-60"/><path d="M480,-8 L900,-48"/><path d="M480,4 L900,-36"/><path d="M480,16 L900,-24"/><path d="M480,28 L900,-12"/><path d="M480,40 L900,0"/><path d="M480,52 L900,12"/><path d="M480,64 L900,24"/><path d="M480,76 L900,36"/><path d="M480,88 L900,48"/><path d="M480,100 L900,60"/><path d="M480,112 L900,72"/></g>
<polygon fill="#dcdcdc" points="500,-5 602,-5 602,40 560,30 520,8"/>
<polygon fill="#e0dede" points="605,-5 634,-5 650,24 650,46 605,40"/>
<polygon fill="#dad8d8" points="652,28 696,48 652,48"/>
<polygon fill="#d9d7d7" points="755,37 768,23 795,23 806,34 790,44"/>
<path d="M695,5.8 H720 V-2" fill="none" stroke="#a4505b" stroke-width="1"/>
</g>
<circle cx="683" cy="-291" r="339" fill="none" stroke="#fff" stroke-width="3"/>
<circle cx="683" cy="-291" r="341" fill="none" stroke="#d8d4d5" stroke-width="0.8"/>
<g fill="#e8eeee" stroke="#fff" stroke-width="1.2"><path d="M828,25 l5,-3 l5,8 l-4,4 z"/><path d="M838,34 l5,-2 l3,5 l-4,3 z"/><path d="M843,42 l5,-2 l3,5 l-4,3 z"/></g>
<g fill="none" stroke="#93404a" stroke-width="1.1"><path d="M12,180 L40,151.5 H50.7"/><path d="M82.7,213.3 L112,184 H121.3"/><path d="M0,251.5 H5"/><path d="M0,314.7 H106"/><path d="M213.7,369.2 H259 L274,354.5"/><path d="M425,204 H447.5 L499.4,255.5"/><path d="M449,271.4 H501"/><path d="M476,328.4 L495.5,309.5 H530"/><path d="M484.4,372.5 L531.5,326 H542"/><path d="M626.6,344 V374"/><path d="M878,59 H898 L931,77"/><path d="M968,52 V96"/><path d="M922,393 L968,349.7 H1121"/><path d="M880,424 L905,399.4 H1142"/><path d="M880,439 L900,458.3 H1149"/><path d="M926,529 L947,508.6 H1144"/><path d="M958,540 L992,574 H1121"/><path d="M715.6,518.75 H755"/><path d="M895,586 L902,594 L995,687 H1045"/><path d="M1408,195 L1372,232 V262"/><path d="M1307,340 V358"/><path d="M1473,204 L1533,203 L1541,209"/><path d="M1545,120.5 H1600"/><path d="M1100,0 V11"/><path d="M1163.6,0 V14"/></g>
<g fill="#f3e3e3" stroke="#a05560" stroke-width="0.7"><circle cx="12" cy="180" r="1.7"/><circle cx="82.7" cy="213.3" r="1.7"/><circle cx="106" cy="314.7" r="1.7"/><circle cx="213.7" cy="369.2" r="1.7"/><circle cx="499.5" cy="256" r="1.7"/><circle cx="501.5" cy="271.5" r="1.7"/><circle cx="530" cy="310" r="1.7"/><circle cx="542" cy="326" r="1.7"/><circle cx="626.6" cy="343" r="1.7"/><circle cx="931" cy="77" r="1.7"/><circle cx="968" cy="51" r="1.7"/><circle cx="922" cy="393" r="1.7"/><circle cx="880" cy="424" r="1.7"/><circle cx="880" cy="439" r="1.7"/><circle cx="926" cy="529" r="1.7"/><circle cx="958" cy="540" r="1.7"/><circle cx="755.5" cy="518.75" r="1.7"/><circle cx="895" cy="586" r="1.7"/><circle cx="1408" cy="195" r="1.7"/><circle cx="1307" cy="340" r="1.7"/><circle cx="1473" cy="204" r="1.7"/><circle cx="1027" cy="6.5" r="1.7"/><circle cx="1100" cy="11.7" r="1.7"/><circle cx="1163.6" cy="15" r="1.7"/></g>
<circle cx="1540.5" cy="120.5" r="3.2" fill="#fbe6ea" stroke="#7a2a30" stroke-width="1.3"/>
<g>
<text x="56.5" y="149.5" font-size="22.46" textLength="52.8" lengthAdjust="spacingAndGlyphs" fill="#7d1620" stroke="#7d1620" stroke-width="0.85">CUBA</text>
<text x="52.8" y="173.3" font-size="22.90" textLength="60.5" lengthAdjust="spacingAndGlyphs" fill="#7d1620" stroke="#7d1620" stroke-width="0.85">37.2 %</text>
<text x="132.5" y="186.2" font-size="22.75" textLength="51.5" lengthAdjust="spacingAndGlyphs" fill="#7d1620" stroke="#7d1620" stroke-width="0.85">HAITI</text>
<text x="130.7" y="210.7" font-size="23.19" textLength="60.8" lengthAdjust="spacingAndGlyphs" fill="#7d1620" stroke="#7d1620" stroke-width="0.85">30.5 %</text>
<text x="5" y="257.3" font-size="23.19" textLength="107.0" lengthAdjust="spacingAndGlyphs" fill="#7d1620" stroke="#7d1620" stroke-width="0.85">HONDURAS</text>
<text x="32" y="281.3" font-size="23.19" textLength="54.7" lengthAdjust="spacingAndGlyphs" fill="#7d1620" stroke="#7d1620" stroke-width="0.85">10.2%</text>
<text x="244" y="317.3" font-size="23.19" textLength="101.3" lengthAdjust="spacingAndGlyphs" fill="#7d1620" stroke="#7d1620" stroke-width="0.85">SURINAME</text>
<text x="244" y="341.3" font-size="23.19" textLength="60.0" lengthAdjust="spacingAndGlyphs" fill="#7d1620" stroke="#7d1620" stroke-width="0.85">41.4 %</text>
<text x="50" y="356.5" font-size="23.91" textLength="37.3" lengthAdjust="spacingAndGlyphs" fill="#ffffff" font-weight="bold" stroke="#ffffff" stroke-width="0.15">COL</text>
<text x="42" y="381" font-size="23.91" textLength="53.3" lengthAdjust="spacingAndGlyphs" fill="#ffffff" font-weight="bold" stroke="#ffffff" stroke-width="0.15">12.2%</text>
<text x="-6" y="417.5" font-size="22.46" textLength="38.5" lengthAdjust="spacingAndGlyphs" fill="#7d1620" stroke="#7d1620" stroke-width="0.85">ECU</text>
<text x="-8" y="442" font-size="22.75" textLength="45.5" lengthAdjust="spacingAndGlyphs" fill="#7d1620" stroke="#7d1620" stroke-width="0.85">4.0%</text>
<text x="45.8" y="521.3" font-size="22.90" textLength="49.2" lengthAdjust="spacingAndGlyphs" fill="#7d1620" stroke="#7d1620" stroke-width="0.85">PERU</text>
<text x="48" y="545.5" font-size="22.46" textLength="43.3" lengthAdjust="spacingAndGlyphs" fill="#7d1620" stroke="#7d1620" stroke-width="0.85">8.3%</text>
<text x="116.3" y="546.3" font-size="22.90" textLength="36.2" lengthAdjust="spacingAndGlyphs" fill="#7d1620" stroke="#7d1620" stroke-width="0.85">BOL</text>
<text x="113" y="570.5" font-size="22.46" textLength="44.5" lengthAdjust="spacingAndGlyphs" fill="#7d1620" stroke="#7d1620" stroke-width="0.85">2.9%</text>
<text x="171.3" y="608" font-size="22.46" textLength="36.2" lengthAdjust="spacingAndGlyphs" fill="#7d1620" stroke="#7d1620" stroke-width="0.85">PRY</text>
<text x="167.5" y="632" font-size="22.75" textLength="43.8" lengthAdjust="spacingAndGlyphs" fill="#7d1620" stroke="#7d1620" stroke-width="0.85">8.1%</text>
<text x="227.5" y="498" font-size="22.46" textLength="67.5" lengthAdjust="spacingAndGlyphs" fill="#7d1620" stroke="#7d1620" stroke-width="0.85">BRAZIL</text>
<text x="240" y="523" font-size="22.46" textLength="43.8" lengthAdjust="spacingAndGlyphs" fill="#7d1620" stroke="#7d1620" stroke-width="0.85">6.5%</text>
<text x="154" y="709.3" font-size="23.19" textLength="39.3" lengthAdjust="spacingAndGlyphs" fill="#ffffff" font-weight="bold" stroke="#ffffff" stroke-width="0.15">ARG</text>
<text x="155" y="733.3" font-size="23.62" textLength="37.7" lengthAdjust="spacingAndGlyphs" fill="#ffffff" font-weight="bold" stroke="#ffffff" stroke-width="0.15">88%</text>
<text x="51.7" y="794.3" font-size="23.19" textLength="55.0" lengthAdjust="spacingAndGlyphs" fill="#7d1620" stroke="#7d1620" stroke-width="0.85">CHILE</text>
<text x="52.3" y="818.3" font-size="22.61" textLength="54.4" lengthAdjust="spacingAndGlyphs" fill="#7d1620" stroke="#7d1620" stroke-width="0.85">12.8%</text>
<text x="337.4" y="209.9" font-size="23.91" textLength="86.1" lengthAdjust="spacingAndGlyphs" fill="#7d1620" stroke="#7d1620" stroke-width="0.85">SENEGAL</text>
<text x="370.4" y="233.9" font-size="23.04" textLength="53.1" lengthAdjust="spacingAndGlyphs" fill="#7d1620" stroke="#7d1620" stroke-width="0.85">13.0%</text>
<text x="363.5" y="272.9" font-size="23.04" textLength="76.5" lengthAdjust="spacingAndGlyphs" fill="#7d1620" stroke="#7d1620" stroke-width="0.85">GAMBIA</text>
<text x="386.6" y="297.5" font-size="23.04" textLength="53.4" lengthAdjust="spacingAndGlyphs" fill="#7d1620" stroke="#7d1620" stroke-width="0.85">13.3%</text>
<text x="397.4" y="330.5" font-size="23.04" textLength="71.1" lengthAdjust="spacingAndGlyphs" fill="#7d1620" stroke="#7d1620" stroke-width="0.85">GUINEA</text>
<text x="414.5" y="355.4" font-size="23.04" textLength="54.0" lengthAdjust="spacingAndGlyphs" fill="#7d1620" stroke="#7d1620" stroke-width="0.85">12.4%</text>
<text x="433.4" y="398.9" font-size="23.62" textLength="137.1" lengthAdjust="spacingAndGlyphs" fill="#7d1620" stroke="#7d1620" stroke-width="0.85">SIERRA LEONE</text>
<text x="515.6" y="423.8" font-size="23.04" textLength="54.9" lengthAdjust="spacingAndGlyphs" fill="#7d1620" stroke="#7d1620" stroke-width="0.85">29.1%</text>
<text x="630.5" y="398.9" font-size="23.62" textLength="68.1" lengthAdjust="spacingAndGlyphs" fill="#7d1620" stroke="#7d1620" stroke-width="0.85">GHANA</text>
<text x="636.5" y="423.8" font-size="23.04" textLength="55.5" lengthAdjust="spacingAndGlyphs" fill="#7d1620" stroke="#7d1620" stroke-width="0.85">40.4%</text>
<text x="533.6" y="215.6" font-size="23.48" textLength="41.4" lengthAdjust="spacingAndGlyphs" fill="#ffffff" font-weight="bold" stroke="#ffffff" stroke-width="0.15">MRT</text>
<text x="518.6" y="240.5" font-size="23.91" textLength="56.4" lengthAdjust="spacingAndGlyphs" fill="#ffffff" font-weight="bold" stroke="#ffffff" stroke-width="0.15">11.3%</text>
<text x="596" y="234.5" font-size="23.91" textLength="49.5" lengthAdjust="spacingAndGlyphs" fill="#ffffff" font-weight="bold" stroke="#ffffff" stroke-width="0.15">MALI</text>
<text x="593" y="259.4" font-size="23.04" textLength="54.6" lengthAdjust="spacingAndGlyphs" fill="#ffffff" font-weight="bold" stroke="#ffffff" stroke-width="0.15">11.3%</text>
<text x="602" y="286.4" font-size="23.04" textLength="36.0" lengthAdjust="spacingAndGlyphs" fill="#ffffff" font-weight="bold" opacity="0.3" filter="url(#hl)" stroke="#ffffff" stroke-width="3.2">BFA</text>
<text x="602" y="286.4" font-size="23.04" textLength="36.0" lengthAdjust="spacingAndGlyphs" fill="#ffffff" font-weight="bold" stroke="#ffffff" stroke-width="0.15">BFA</text>
<text x="593.6" y="310.4" font-size="23.04" textLength="55.8" lengthAdjust="spacingAndGlyphs" fill="#ffffff" font-weight="bold" opacity="0.3" filter="url(#hl)" stroke="#ffffff" stroke-width="3.2">16.5%</text>
<text x="593.6" y="310.4" font-size="23.04" textLength="55.8" lengthAdjust="spacingAndGlyphs" fill="#ffffff" font-weight="bold" stroke="#ffffff" stroke-width="0.15">16.5%</text>
<text x="669" y="311" font-size="23.91" textLength="76.0" lengthAdjust="spacingAndGlyphs" fill="#ffffff" font-weight="bold" stroke="#ffffff" stroke-width="0.15">NIGERIA</text>
<text x="679" y="336" font-size="23.91" textLength="55.0" lengthAdjust="spacingAndGlyphs" fill="#ffffff" font-weight="bold" stroke="#ffffff" stroke-width="0.15">21.1%</text>
<text x="878" y="16" font-size="23.19" textLength="73.2" lengthAdjust="spacingAndGlyphs" fill="#ffffff" font-weight="bold" stroke="#ffffff" stroke-width="0.15">TURKEY</text>
<text x="884.8" y="40" font-size="23.19" textLength="57.2" lengthAdjust="spacingAndGlyphs" fill="#ffffff" font-weight="bold" stroke="#ffffff" stroke-width="0.15">88.5%</text>
<text x="784.8" y="67.2" font-size="23.19" textLength="91.2" lengthAdjust="spacingAndGlyphs" fill="#7d1620" stroke="#7d1620" stroke-width="0.85">LEBANON</text>
<text x="828" y="91.5" font-size="22.46" textLength="48.0" lengthAdjust="spacingAndGlyphs" fill="#7d1620" stroke="#7d1620" stroke-width="0.85">162%</text>
<text x="955.2" y="121.2" font-size="23.19" textLength="57.6" lengthAdjust="spacingAndGlyphs" fill="#7d1620" stroke="#7d1620" stroke-width="0.85">SYRIA</text>
<text x="960" y="145.5" font-size="22.46" textLength="48.0" lengthAdjust="spacingAndGlyphs" fill="#7d1620" stroke="#7d1620" stroke-width="0.85">139%</text>
<text x="848.8" y="160" font-size="23.19" textLength="60.0" lengthAdjust="spacingAndGlyphs" fill="#ffffff" font-weight="bold" stroke="#ffffff" stroke-width="0.15">EGYPT</text>
<text x="851.2" y="184.8" font-size="23.19" textLength="57.6" lengthAdjust="spacingAndGlyphs" fill="#ffffff" font-weight="bold" stroke="#ffffff" stroke-width="0.15">16.2 %</text>
<text x="857.2" y="240.8" font-size="23.19" textLength="64.8" lengthAdjust="spacingAndGlyphs" fill="#ffffff" font-weight="bold" stroke="#ffffff" stroke-width="0.15">SUDAN</text>
<text x="866" y="266" font-size="23.19" textLength="48.0" lengthAdjust="spacingAndGlyphs" fill="#ffffff" font-weight="bold" stroke="#ffffff" stroke-width="0.15">103%</text>
<text x="938" y="314.8" font-size="24.35" textLength="40.0" lengthAdjust="spacingAndGlyphs" fill="#ffffff" font-weight="bold" stroke="#ffffff" stroke-width="0.15">ETH</text>
<text x="928.8" y="340" font-size="23.91" textLength="57.2" lengthAdjust="spacingAndGlyphs" fill="#ffffff" font-weight="bold" stroke="#ffffff" stroke-width="0.15">31.7%</text>
<text x="1056.4" y="71.7" font-size="24.49" textLength="45.6" lengthAdjust="spacingAndGlyphs" fill="#ffffff" font-weight="bold" stroke="#ffffff" stroke-width="0.15">IRAN</text>
<text x="1051.4" y="97" font-size="24.35" textLength="55.6" lengthAdjust="spacingAndGlyphs" fill="#ffffff" font-weight="bold" stroke="#ffffff" stroke-width="0.15">52.2%</text>
<text x="1142.3" y="71.7" font-size="24.49" textLength="38.0" lengthAdjust="spacingAndGlyphs" fill="#ffffff" font-weight="bold" opacity="0.3" filter="url(#hl)" stroke="#ffffff" stroke-width="3.2">AFG</text>
<text x="1142.3" y="71.7" font-size="24.49" textLength="38.0" lengthAdjust="spacingAndGlyphs" fill="#ffffff" font-weight="bold" stroke="#ffffff" stroke-width="0.15">AFG</text>
<text x="1131.5" y="97" font-size="24.35" textLength="61.5" lengthAdjust="spacingAndGlyphs" fill="#ffffff" font-weight="bold" opacity="0.3" filter="url(#hl)" stroke="#ffffff" stroke-width="3.2">13.6 %</text>
<text x="1131.5" y="97" font-size="24.35" textLength="61.5" lengthAdjust="spacingAndGlyphs" fill="#ffffff" font-weight="bold" stroke="#ffffff" stroke-width="0.15">13.6 %</text>
<text x="1146" y="130" font-size="23.19" textLength="38.8" lengthAdjust="spacingAndGlyphs" fill="#ffffff" font-weight="bold" opacity="0.3" filter="url(#hl)" stroke="#ffffff" stroke-width="3.2">PAK</text>
<text x="1146" y="130" font-size="23.19" textLength="38.8" lengthAdjust="spacingAndGlyphs" fill="#ffffff" font-weight="bold" stroke="#ffffff" stroke-width="0.15">PAK</text>
<text x="1138" y="155.2" font-size="24.20" textLength="56.0" lengthAdjust="spacingAndGlyphs" fill="#ffffff" font-weight="bold" opacity="0.3" filter="url(#hl)" stroke="#ffffff" stroke-width="3.2">26.6%</text>
<text x="1138" y="155.2" font-size="24.20" textLength="56.0" lengthAdjust="spacingAndGlyphs" fill="#ffffff" font-weight="bold" stroke="#ffffff" stroke-width="0.15">26.6%</text>
<text x="1251" y="168" font-size="23.19" textLength="51.2" lengthAdjust="spacingAndGlyphs" fill="#7d1620" stroke="#7d1620" stroke-width="0.85">INDIA</text>
<text x="1254.6" y="192.4" font-size="23.04" textLength="45.2" lengthAdjust="spacingAndGlyphs" fill="#7d1620" stroke="#7d1620" stroke-width="0.85">6.8%</text>
<text x="1126.7" y="339.7" font-size="23.33" textLength="81.2" lengthAdjust="spacingAndGlyphs" fill="#7d1620" stroke="#7d1620" stroke-width="0.85">UGANDA</text>
<text x="1127.8" y="363.9" font-size="23.04" textLength="53.7" lengthAdjust="spacingAndGlyphs" fill="#7d1620" stroke="#7d1620" stroke-width="0.85">10.7%</text>
<text x="1149.3" y="390.3" font-size="23.04" textLength="83.2" lengthAdjust="spacingAndGlyphs" fill="#7d1620" stroke="#7d1620" stroke-width="0.85">RWANDA</text>
<text x="1149.3" y="415.2" font-size="23.48" textLength="35.9" lengthAdjust="spacingAndGlyphs" fill="#7d1620" stroke="#7d1620" stroke-width="0.85">31%</text>
<text x="1156.9" y="447.4" font-size="23.62" textLength="84.2" lengthAdjust="spacingAndGlyphs" fill="#7d1620" stroke="#7d1620" stroke-width="0.85">BURUNDI</text>
<text x="1156.9" y="471.9" font-size="23.48" textLength="54.8" lengthAdjust="spacingAndGlyphs" fill="#7d1620" stroke="#7d1620" stroke-width="0.85">22.1%</text>
<text x="1151.2" y="510.5" font-size="23.62" textLength="79.4" lengthAdjust="spacingAndGlyphs" fill="#7d1620" stroke="#7d1620" stroke-width="0.85">MALAWI</text>
<text x="1151.2" y="535" font-size="23.48" textLength="54.8" lengthAdjust="spacingAndGlyphs" fill="#7d1620" stroke="#7d1620" stroke-width="0.85">25.9%</text>
<text x="1126.7" y="578.5" font-size="23.04" textLength="132.2" lengthAdjust="spacingAndGlyphs" fill="#7d1620" stroke="#7d1620" stroke-width="0.85">MOZAMBIQUE</text>
<text x="1127.8" y="603.8" font-size="23.04" textLength="59.3" lengthAdjust="spacingAndGlyphs" fill="#7d1620" stroke="#7d1620" stroke-width="0.85">11.8 %</text>
<text x="807" y="434.2" font-size="23.04" textLength="38.8" lengthAdjust="spacingAndGlyphs" fill="#ffffff" font-weight="bold" stroke="#ffffff" stroke-width="0.15">DRC</text>
<text x="799.4" y="459.2" font-size="23.77" textLength="54.8" lengthAdjust="spacingAndGlyphs" fill="#ffffff" font-weight="bold" stroke="#ffffff" stroke-width="0.15">12.2%</text>
<text x="625.6" y="516.9" font-size="23.62" textLength="80.7" lengthAdjust="spacingAndGlyphs" fill="#7d1620" stroke="#7d1620" stroke-width="0.85">ANGOLA</text>
<text x="651.3" y="541.9" font-size="23.62" textLength="55.0" lengthAdjust="spacingAndGlyphs" fill="#7d1620" stroke="#7d1620" stroke-width="0.85">16.7%</text>
<text x="819.4" y="601.7" font-size="23.33" textLength="42.3" lengthAdjust="spacingAndGlyphs" fill="#ffffff" font-weight="bold" stroke="#ffffff" stroke-width="0.15">BWA</text>
<text x="815.8" y="626.7" font-size="23.33" textLength="51.4" lengthAdjust="spacingAndGlyphs" fill="#ffffff" font-weight="bold" stroke="#ffffff" stroke-width="0.15">13.1%</text>
<text x="1310" y="286" font-size="23.91" textLength="107.0" lengthAdjust="spacingAndGlyphs" fill="#7d1620" stroke="#7d1620" stroke-width="0.85">MYANMAR</text>
<text x="1335" y="320.8" font-size="24.06" textLength="57.0" lengthAdjust="spacingAndGlyphs" fill="#7d1620" stroke="#7d1620" stroke-width="0.85">19.4%</text>
<text x="1262" y="385" font-size="24.64" textLength="113.0" lengthAdjust="spacingAndGlyphs" fill="#7d1620" stroke="#7d1620" stroke-width="0.85">SRI LANKA</text>
<text x="1298" y="418" font-size="23.91" textLength="40.0" lengthAdjust="spacingAndGlyphs" fill="#7d1620" stroke="#7d1620" stroke-width="0.85">66%</text>
<text x="1536" y="235" font-size="26.09" textLength="57.0" lengthAdjust="spacingAndGlyphs" fill="#7d1620" stroke="#7d1620" stroke-width="0.85">LAOS</text>
<text x="1534" y="268" font-size="24.64" textLength="62.0" lengthAdjust="spacingAndGlyphs" fill="#7d1620" stroke="#7d1620" stroke-width="0.85">36.8%</text>
<text x="652" y="10.5" font-size="23.19" textLength="31.4" lengthAdjust="spacingAndGlyphs" fill="#7d1620" stroke="#7d1620" stroke-width="0.85">BIH</text>
<text x="641.4" y="35.6" font-size="21.88" textLength="55.1" lengthAdjust="spacingAndGlyphs" fill="#7d1620" stroke="#7d1620" stroke-width="0.85">17.3%</text>
<text x="759.5" y="11" font-size="23.19" textLength="51.5" lengthAdjust="spacingAndGlyphs" fill="#7d1620" stroke="#7d1620" stroke-width="0.85">16.8%</text>
<text x="577" y="0.5" font-size="23.91" textLength="54.0" lengthAdjust="spacingAndGlyphs" fill="#7d1620" stroke="#7d1620" stroke-width="0.85">10.2%</text>
</g>
<text x="1440" y="96" font-size="39.13" textLength="104.0" lengthAdjust="spacingAndGlyphs" fill="#35141a" font-weight="bold" stroke="#35141a" stroke-width="0.2">CHINA</text>
<text x="1454" y="138" font-size="39.13" textLength="75.0" lengthAdjust="spacingAndGlyphs" fill="#7a0f1a" font-weight="bold" stroke="#7a0f1a" stroke-width="0.2">2.1%</text>
<text x="1057.6" y="698.6" font-size="38.99" textLength="176.1" lengthAdjust="spacingAndGlyphs" fill="#2b1014" font-weight="bold" stroke="#2b1014" stroke-width="0.2">ZIMBABWE</text>
<text x="1057.6" y="744.6" font-size="38.99" textLength="82.4" lengthAdjust="spacingAndGlyphs" fill="#7a0f17" font-weight="bold" stroke="#7a0f17" stroke-width="0.2">269%</text>
<text x="1057" y="790" font-size="34.06" textLength="336.0" lengthAdjust="spacingAndGlyphs" fill="#8a2a30" stroke="#8a2a30" stroke-width="0.35">Zimbabwe has the highest</text>
<text x="1057" y="826.5" font-size="34.06" textLength="343.0" lengthAdjust="spacingAndGlyphs" fill="#8a2a30" stroke="#8a2a30" stroke-width="0.35">inflation in the world, at an</text>
<text x="1057" y="863.5" font-size="34.06" textLength="250.0" lengthAdjust="spacingAndGlyphs" fill="#8a2a30" stroke="#8a2a30" stroke-width="0.35">eye-watering 269%.</text>
<text x="454.5" y="827.3" font-size="32.32" textLength="432.5" lengthAdjust="spacingAndGlyphs" fill="#8a2a30" stroke="#8a2a30" stroke-width="0.35">In 2022, 43% of countries globally</text>
<text x="454.5" y="861.3" font-size="32.32" textLength="322.5" lengthAdjust="spacingAndGlyphs" fill="#8a2a30" stroke="#8a2a30" stroke-width="0.35">have inflation above 10%.</text>
<g fill="none" stroke="#962a33" stroke-width="1.7" stroke-linejoin="miter"><circle cx="409.2" cy="834" r="30.2"/><path d="M392.5,843.3 V831.3 H387.5 L397.9,818.8 L406.7,831.3 H402 V854.2"/><path d="M410.8,826.7 V821.7 H405.8 L415.8,809.6 L425.4,821.7 H420 V831.7"/><path d="M406,838.5 L412.9,831.3 L422.9,843.8 H417.5 V861"/></g>
</svg>
</body></html>
